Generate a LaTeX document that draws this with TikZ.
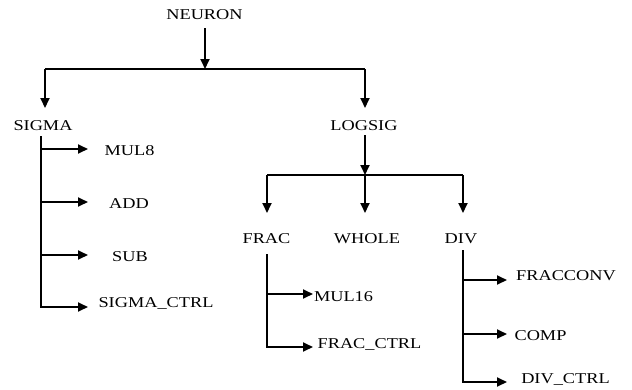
\documentclass[tikz,border=0pt]{standalone}
\usepackage{fontspec}
\setmainfont{Liberation Serif}
\usetikzlibrary{arrows.meta}
\newcommand{\lbl}[1]{\scalebox{1.22}[1]{#1}}
\begin{document}
\begin{tikzpicture}[x=1pt,y=-1pt,
  txt/.style={inner sep=0pt,text height=11pt,text depth=0pt,font=\fontsize{15}{15}\selectfont},
  ln/.style={line width=1.8pt},
  arr/.style={line width=1.8pt,-{Triangle[length=10pt,width=9pt]}}]
\useasboundingbox[fill=white] (0,0) rectangle (632,389);
% text nodes
\node[txt] (neuron) at (204.5,14) {\lbl{NEURON}};
\node[txt] (sigma) at (43,124.5) {\lbl{SIGMA}};
\node[txt] (logsig) at (364,125) {\lbl{LOGSIG}};
\node[txt] (mul8) at (129.5,149.5) {\lbl{MUL8}};
\node[txt] (add) at (129,202.5) {\lbl{ADD}};
\node[txt] (sub) at (130,256) {\lbl{SUB}};
\node[txt] (sigctrl) at (156,302) {\lbl{SIGMA\_CTRL}};
\node[txt] (frac) at (266.5,237.5) {\lbl{FRAC}};
\node[txt] (whole) at (367,237.5) {\lbl{WHOLE}};
\node[txt] (div) at (461,237.5) {\lbl{DIV}};
\node[txt] (mul16) at (343.5,296) {\lbl{MUL16}};
\node[txt] (fracctrl) at (369.5,342.5) {\lbl{FRAC\_CTRL}};
\node[txt] (fracconv) at (566,275) {\lbl{FRACCONV}};
\node[txt] (comp) at (540.5,335) {\lbl{COMP}};
\node[txt] (divctrl) at (565.5,377.5) {\lbl{DIV\_CTRL}};
% junction coordinates
\coordinate (j1) at (205,69);
\coordinate (b1l) at (45,69);
\coordinate (b1r) at (365,69);
\coordinate (j2) at (365,175);
\coordinate (b2l) at (267,175);
\coordinate (b2r) at (463,175);
\coordinate (st) at (41,136);
\coordinate (ft) at (267,254);
\coordinate (dt) at (463,250);
% level 1
\draw[arr] (j1 |- 0,28) -- (j1);
\draw[ln] (b1l) -- (b1r);
\draw[arr] (b1l) -- (b1l |- 0,108);
\draw[arr] (b1r) -- (b1r |- 0,108);
% logsig
\draw[arr] (j2 |- 0,135) -- (j2);
\draw[ln] (b2l) -- (b2r);
\draw[arr] (b2l) -- (b2l |- 0,213);
\draw[arr] (j2) -- (j2 |- 0,213);
\draw[arr] (b2r) -- (b2r |- 0,213);
% sigma branches
\draw[ln] (st) -- (st |- 0,307);
\draw[arr] (st |- 0,149) -- (88,149);
\draw[arr] (st |- 0,202) -- (88,202);
\draw[arr] (st |- 0,255) -- (88,255);
\draw[arr,line cap=butt] ([xshift=-0.9pt]st |- 0,307) -- (88,307);
% frac branches
\draw[ln] (ft) -- (ft |- 0,347);
\draw[arr] (ft |- 0,294) -- (313,294);
\draw[arr] ([xshift=-0.9pt]ft |- 0,347) -- (313,347);
% div branches
\draw[ln] (dt) -- (dt |- 0,382);
\draw[arr] (dt |- 0,280) -- (507,280);
\draw[arr] (dt |- 0,334) -- (507,334);
\draw[arr] ([xshift=-0.9pt]dt |- 0,382) -- (507,382);
\end{tikzpicture}
\end{document}
